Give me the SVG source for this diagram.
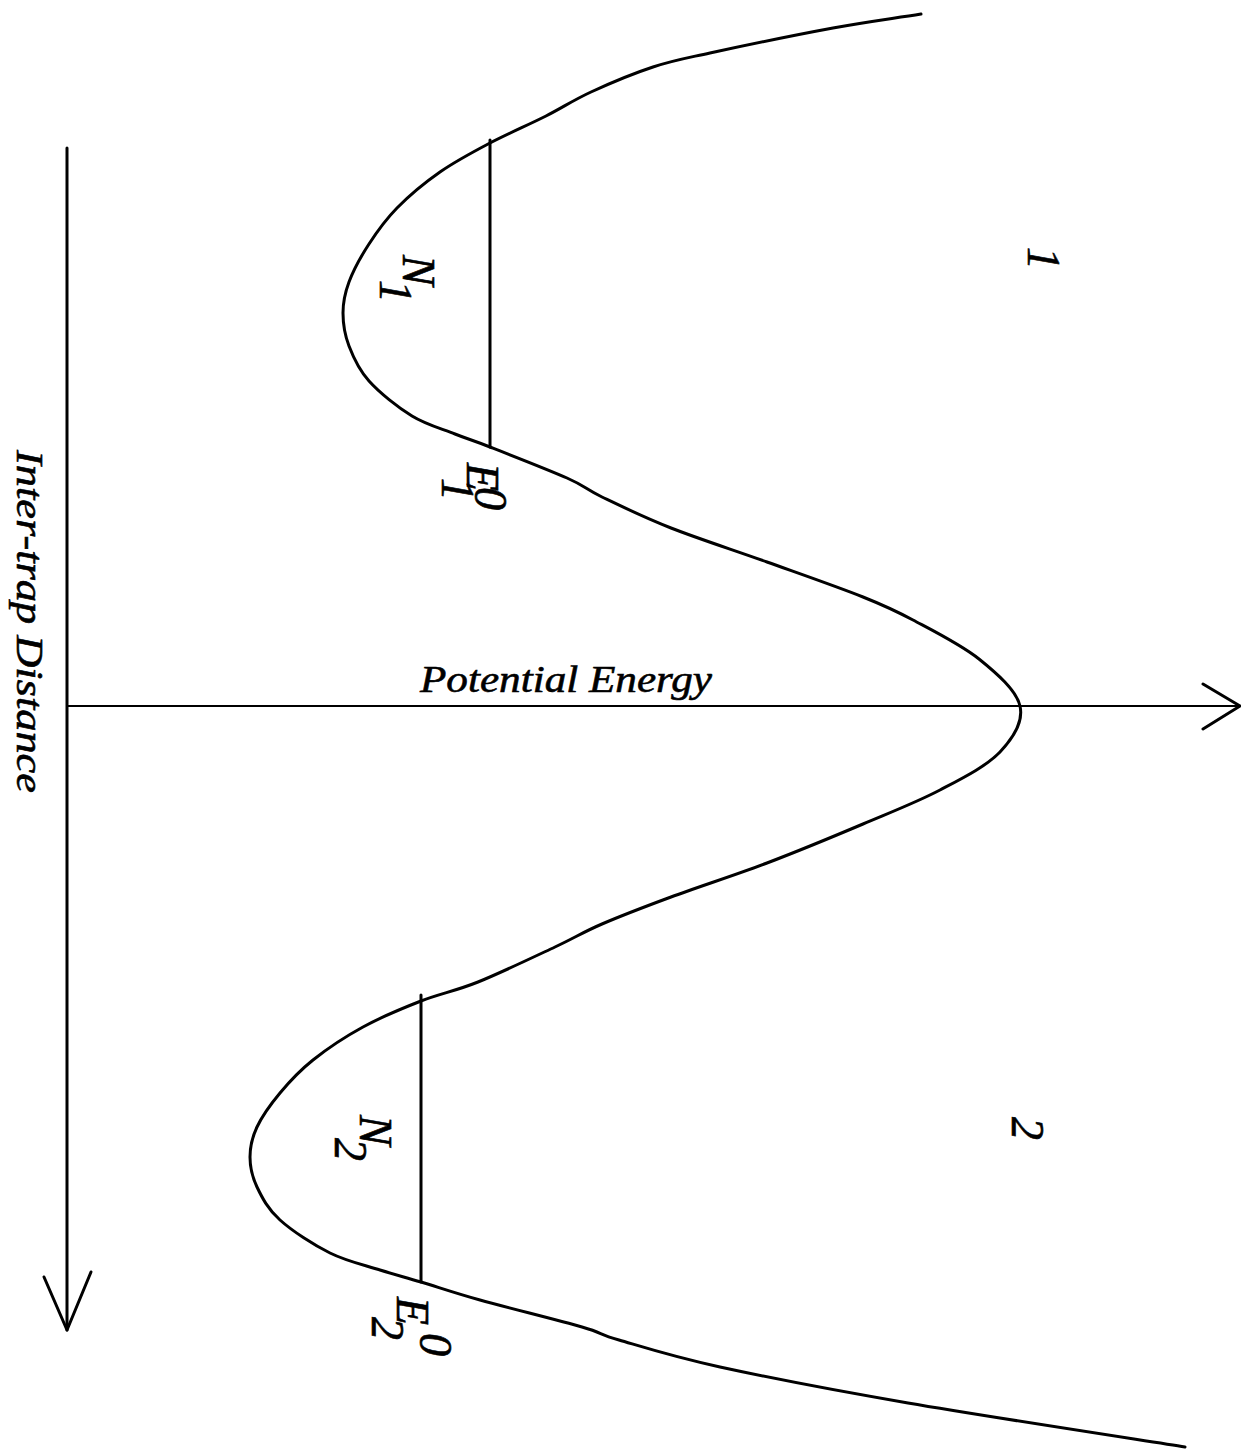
<svg xmlns="http://www.w3.org/2000/svg" width="1241" height="1450" viewBox="0 0 1241 1450">
<style>
.ln{fill:none;stroke:#000;stroke-linecap:round;stroke-linejoin:round}
.t{font-family:"Liberation Serif","Times New Roman",serif;font-style:italic;fill:#000;stroke:#000;stroke-width:0.6}
.m{font-size:46px}
.ax{font-size:38px}
</style>
<rect width="1241" height="1450" fill="#fff"/>
<g id="connectors">
<g id="axis-distance">
<line class="ln" x1="67" y1="148" x2="67" y2="1330" stroke-width="3"/>
<polyline class="ln" points="44,1277 67,1330 91,1272" stroke-width="3"/>
</g>
<g id="axis-energy">
<line class="ln" x1="67" y1="706" x2="1240" y2="706" stroke-width="2"/>
<polyline class="ln" points="1203,684 1240,706 1203,729" stroke-width="3"/>
</g>
</g>
<g id="curve">
<path class="ln" stroke-width="3" d="M921,14 C891.7,18.7 868.2,21.5 833,28 S740,46.5 710,53 S672.8,60.5 653,67 S608.8,83.8 591,92 S562.8,107.5 546,116 S507.7,133.7 490,143 S455.5,161.2 440,172 S408.8,196 397,208 S377,231.7 369,244 S353.3,270.5 349,282 S343,302.3 343,313 S344.7,334.7 349,346 S358.5,369.3 369,381 S397.7,407.2 412,416 S442,428.8 455,434 S471.3,439.7 490,447 S548.3,469.7 567,478 S584.7,488.7 602,497 S643.5,517.2 671,528 S735,550.5 767,562 S838.7,587.3 863,597 S893.7,609.7 913,620 S961.2,644.7 979,659 S1016.5,690.5 1020,706 S1013.3,738 1000,752 S962.8,778 940,790 S891.8,811.8 863,824 S799,850.8 767,863 S698.5,886.8 671,897 S621.3,915.7 602,924 S575.7,937.3 555,947 S500.3,973 478,982 S440.2,993.5 421,1001 S381,1017.2 363,1027 S326.8,1049 313,1060 S289.3,1081.8 280,1093 S262,1116.3 257,1127 S250,1147 250,1157 S252,1176.5 257,1187 S267.8,1209 280,1220 S313.3,1244.7 330,1253 S364.8,1265.2 380,1270 S404.3,1277 421,1282 S453.2,1292.5 480,1300 S558.8,1320.3 582,1327 S596,1333.3 619,1340 S671.8,1356.5 720,1367 S830.5,1389.7 908,1403 S1138.8,1439.7 1185,1447"/>
</g>
<g id="level-1">
<line class="ln" x1="490" y1="140" x2="490" y2="447" stroke-width="3"/>
</g>
<g id="level-2">
<line class="ln" x1="421" y1="995" x2="421" y2="1282" stroke-width="3"/>
</g>
<g id="label-energy">
<text class="t ax" x="420" y="692" textLength="292" lengthAdjust="spacingAndGlyphs">Potential Energy</text>
</g>
<g id="label-distance">
<text class="t ax" transform="translate(17,450) rotate(90)" textLength="343" lengthAdjust="spacingAndGlyphs">Inter-trap Distance</text>
</g>
<g id="label-N1">
<text class="t m" transform="translate(403,255) rotate(90)">N<tspan x="25" y="23">1</tspan></text>
</g>
<g id="label-E1">
<text class="t m" transform="translate(467,463) rotate(90)">E<tspan x="15" y="25">1</tspan><tspan x="24" y="-8">0</tspan></text>
</g>
<g id="label-N2">
<text class="t m" transform="translate(360,1115) rotate(90)">N<tspan x="23" y="25">2</tspan></text>
</g>
<g id="label-E2">
<text class="t m" transform="translate(397,1297) rotate(90)">E<tspan x="20" y="25">2</tspan><tspan x="36" y="-23">0</tspan></text>
</g>
<g id="label-well-1">
<text class="t m" transform="translate(1028,247) rotate(90)">1</text>
</g>
<g id="label-well-2">
<text class="t m" transform="translate(1012,1117) rotate(90)">2</text>
</g>
</svg>
